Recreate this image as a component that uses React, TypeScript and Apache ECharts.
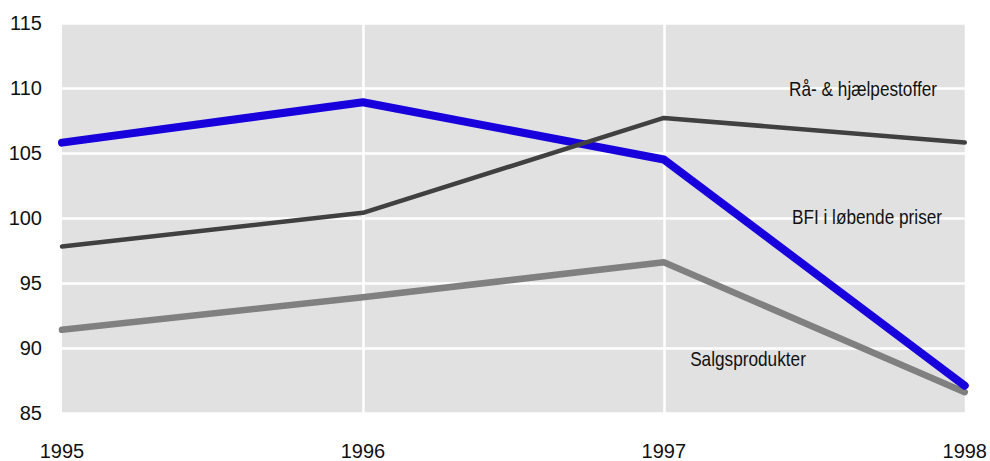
import React, { useEffect, useRef } from "react";
import * as echarts from "echarts";

const years = ["1995", "1996", "1997", "1998"];
const yTicks = [85, 90, 95, 100, 105, 110, 115];
const bfi = [105.8, 108.9, 104.5, 87.1];
const raa = [97.8, 100.4, 107.7, 105.8];
const salg = [91.4, 93.9, 96.6, 86.6];

const FONT = "'Liberation Sans', Arial, sans-serif";

export default function App() {
  const ref = useRef<HTMLDivElement>(null);
  useEffect(() => {
    document.body.style.margin = "0";
    const chart = echarts.init(ref.current!, null, { renderer: "svg" });
    const label = (text: string, x: number, y: number) => ({
      type: "text",
      x,
      y,
      scaleX: 0.82,
      z: 100,
      style: {
        text,
        fontSize: 21,
        fill: "#111",
        fontFamily: FONT,
        textAlign: "center",
        textVerticalAlign: "middle",
      },
    });
    chart.setOption({
      animation: false,
      backgroundColor: "#ffffff",
      textStyle: { fontFamily: FONT },
      grid: {
        left: 62,
        right: 25,
        top: 23,
        bottom: 46,
        show: true,
        backgroundColor: "#e1e1e1",
        borderWidth: 0,
      },
      xAxis: {
        type: "category",
        data: years,
        boundaryGap: false,
        axisLine: { show: false },
        axisTick: { show: false },
        axisLabel: {
          fontSize: 20,
          color: "#111",
          margin: 28,
          fontFamily: FONT,
        },
        splitLine: {
          show: true,
          interval: (i: number) => i === 1 || i === 2,
          lineStyle: { color: "#ffffff", width: 2.5 },
        },
      },
      yAxis: {
        type: "value",
        min: yTicks[0],
        max: yTicks[yTicks.length - 1],
        interval: 5,
        axisLine: { show: false },
        axisTick: { show: false },
        axisLabel: {
          fontSize: 20,
          color: "#111",
          margin: 20,
          fontFamily: FONT,
        },
        splitLine: { show: true, lineStyle: { color: "#ffffff", width: 2.5 } },
      },
      series: [
        {
          name: "Salgsprodukter",
          type: "line",
          data: salg,
          symbol: "none",
          lineStyle: { color: "#808080", width: 6.5, cap: "round", join: "round" },
        },
        {
          name: "BFI i løbende priser",
          type: "line",
          data: bfi,
          symbol: "none",
          lineStyle: { color: "#1800dd", width: 8, cap: "round", join: "round" },
        },
        {
          name: "Rå- & hjælpestoffer",
          type: "line",
          data: raa,
          symbol: "none",
          lineStyle: { color: "#404040", width: 4.5, cap: "round", join: "round" },
        },
      ],
      graphic: [
        label("Rå- & hjælpestoffer", 863, 89),
        label("BFI i løbende priser", 867, 217),
        label("Salgsprodukter", 748, 359),
      ],
    });
    return () => chart.dispose();
  }, []);
  return <div ref={ref} style={{ width: 990, height: 461 }} />;
}
